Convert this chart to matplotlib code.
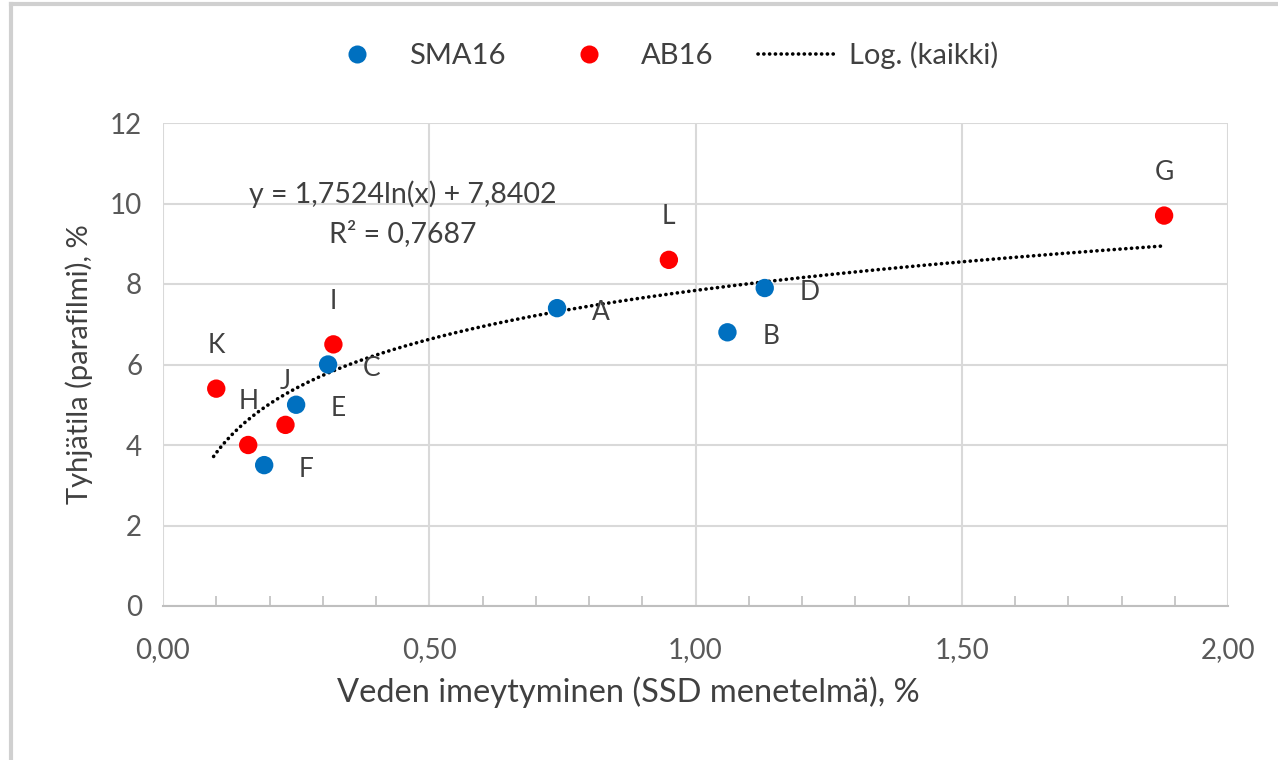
import numpy as np
import matplotlib.pyplot as plt
from matplotlib.lines import Line2D

plt.rcParams['font.family'] = ['Lato', 'DejaVu Sans']

# data
sma_names = ['A', 'B', 'C', 'D', 'E', 'F']
sma_x = [0.74, 1.06, 0.31, 1.13, 0.25, 0.19]
sma_y = [7.4, 6.8, 6.0, 7.9, 5.0, 3.5]

ab_names = ['G', 'L', 'I', 'K', 'H', 'J']
ab_x = [1.88, 0.95, 0.32, 0.10, 0.16, 0.23]
ab_y = [9.7, 8.6, 6.5, 5.4, 4.0, 4.5]

# trendline from the equation shown in the chart
coef_a = 1.7524
coef_b = 7.8402
r2 = 0.7687

blue = '#0070C0'
red = '#FF0000'
txt = '#404040'

fig = plt.figure(figsize=(12.78, 7.6), dpi=100)
ax = fig.add_axes([163 / 1278, 1 - 606 / 760, (1228 - 163) / 1278, (606 - 123) / 760])

all_x = sma_x + ab_x
xs = np.linspace(min(all_x) - 0.005, max(all_x), 300)
ax.plot(xs, coef_a * np.log(xs) + coef_b, color='black', lw=2.6,
        linestyle=(0, (0.05, 1.55)), dash_capstyle='round', zorder=2)

ax.scatter(sma_x, sma_y, s=175, color=blue, edgecolors='none', zorder=3)
ax.scatter(ab_x, ab_y, s=175, color=red, edgecolors='none', zorder=3)

# data labels: SMA16 to the right, AB16 above
for n, x, y in zip(sma_names, sma_x, sma_y):
    ax.annotate(n, (x, y), xytext=(25, -3), textcoords='offset points',
                ha='left', va='center', fontsize=19, color=txt)
for n, x, y in zip(ab_names, ab_x, ab_y):
    ax.annotate(n, (x, y), xytext=(0, 31), textcoords='offset points',
                ha='center', va='center', fontsize=19, color=txt)

ax.text(0.45, 10.23, 'y = 1,7524ln(x) + 7,8402', ha='center', va='center',
        fontsize=20.5, color=txt)
ax.text(0.45, 9.25, 'R² = 0,7687', ha='center', va='center',
        fontsize=20.5, color=txt)

ax.set_xlim(0, 2)
ax.set_ylim(0, 12)
ax.set_xticks(np.arange(0, 2.01, 0.5))
ax.set_xticklabels(['0,00', '0,50', '1,00', '1,50', '2,00'])
ax.set_yticks(range(0, 13, 2))
ax.set_xticks(np.arange(0, 2.01, 0.1), minor=True)
ax.tick_params(axis='x', which='major', length=0, pad=22, labelsize=20, labelcolor='#595959')
ax.tick_params(axis='x', which='minor', direction='in', length=7, color='#BFBFBF', width=1.2)
ax.tick_params(axis='y', length=0, pad=15, labelsize=20, labelcolor='#595959')
ax.grid(True, which='major', color='#D9D9D9', lw=1.5)
ax.set_axisbelow(True)
for s in ['top', 'right', 'left']:
    ax.spines[s].set_visible(False)
ax.spines['bottom'].set_color('#BFBFBF')
ax.spines['bottom'].set_linewidth(1.5)

ax.set_xlabel('Veden imeytyminen (SSD menetelmä), %', fontsize=23.5, color=txt)
ax.xaxis.set_label_coords((628 - 163) / 1065, -(692 - 606) / 483)
ax.xaxis.label.set_va('center')
ax.set_ylabel('Tyhjätila (parafilmi), %', fontsize=21, color=txt, labelpad=12)

handles = [
    Line2D([], [], marker='o', ls='none', color=blue, markersize=13, markeredgewidth=0),
    Line2D([], [], marker='o', ls='none', color=red, markersize=13, markeredgewidth=0),
    Line2D([], [], color='black', lw=2.6, linestyle=(0, (0.05, 1.55)), dash_capstyle='round'),
]
fig.legend(handles, ['SMA16', 'AB16', 'Log. (kaikki)'], loc='center',
           bbox_to_anchor=(658 / 1278, 1 - 55 / 760), ncol=3, frameon=False,
           fontsize=21, handlelength=2.7, columnspacing=1.5, handletextpad=0.45,
           labelcolor=txt)

# outer chart frame (left and top edges visible)
fig.add_artist(Line2D([11 / 1278, 11 / 1278], [0, 1 - 4 / 760], transform=fig.transFigure,
                      color='#D0D0D0', lw=3))
fig.add_artist(Line2D([11 / 1278, 1], [1 - 4 / 760, 1 - 4 / 760], transform=fig.transFigure,
                      color='#D0D0D0', lw=3))

fig.savefig('out.png', dpi=100)
